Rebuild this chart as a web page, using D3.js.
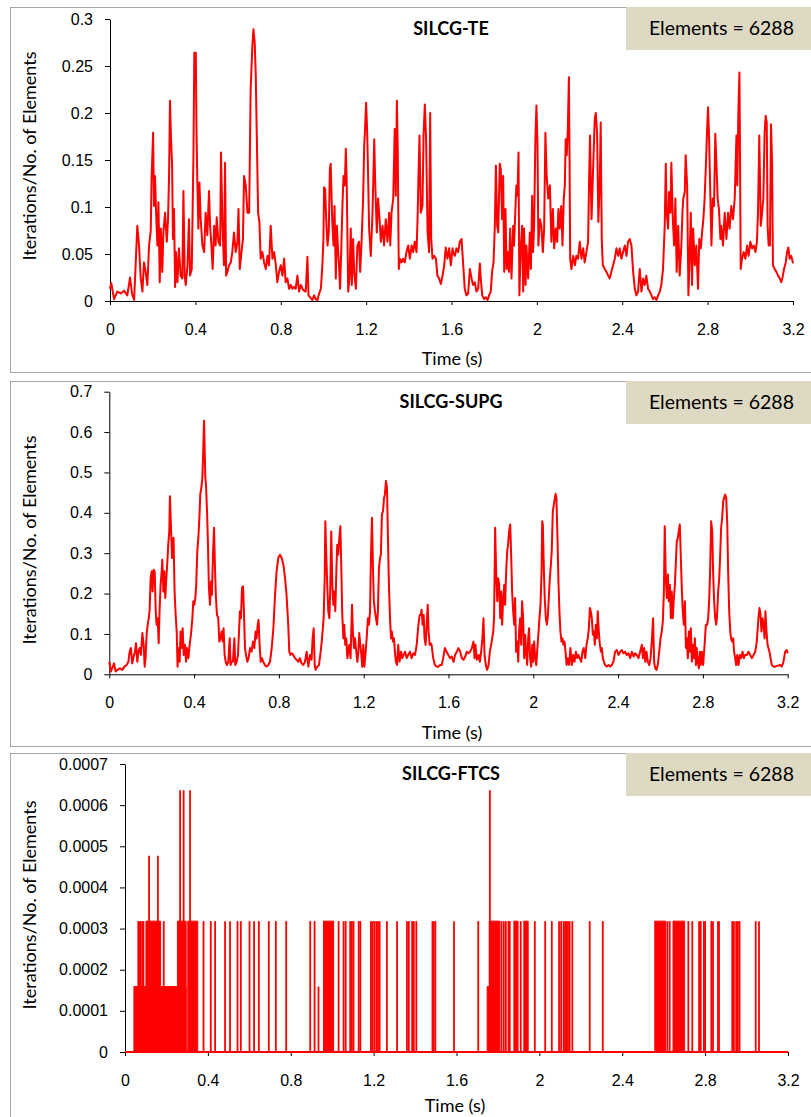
<!DOCTYPE html>
<html>
<head>
<meta charset="utf-8">
<script src="https://cdn.jsdelivr.net/npm/d3@7/dist/d3.min.js"></script>
<style>
  body { margin: 0; background: #fff; }
  svg { display: block; font-family: Lato, "Open Sans", sans-serif; }
</style>
</head>
<body>
<script>
// ---- data ----
var elementCount = 6288;
var timeTicks = [0, 0.4, 0.8, 1.2, 1.6, 2, 2.4, 2.8, 3.2];
var teTicks = [0, 0.05, 0.1, 0.15, 0.2, 0.25, 0.3];
var supgTicks = [0, 0.1, 0.2, 0.3, 0.4, 0.5, 0.6, 0.7];
var ftcsTicks = [0, 0.0001, 0.0002, 0.0003, 0.0004, 0.0005, 0.0006, 0.0007];

// SILCG-TE : [time (s), iterations / elements]
var teData = [
 [0,0.013],[0.006,0.019],[0.019,0.002],[0.034,0.010],[0.050,0.008],[0.066,0.011],[0.081,0.006],[0.094,0.025],[0.103,0.008],[0.113,0.001],
 [0.120,0.038],[0.128,0.080],[0.136,0.059],[0.144,0.024],[0.152,0.010],[0.159,0.041],[0.167,0.031],[0.175,0.017],[0.183,0.059],[0.191,0.075],
 [0.195,0.133],[0.202,0.179],[0.206,0.101],[0.211,0.133],[0.217,0.087],[0.222,0.059],[0.227,0.105],[0.233,0.020],[0.238,0.077],[0.245,0.031],
 [0.250,0.073],[0.258,0.094],[0.266,0.063],[0.272,0.087],[0.277,0.137],[0.281,0.213],[0.286,0.172],[0.291,0.144],[0.295,0.066],[0.300,0.098],
 [0.305,0.015],[0.309,0.052],[0.316,0.020],[0.323,0.056],[0.331,0.027],[0.339,0.024],[0.344,0.117],[0.350,0.027],[0.355,0.017],[0.363,0.038],
 [0.370,0.087],[0.375,0.027],[0.383,0.034],[0.391,0.155],[0.395,0.264],[0.402,0.264],[0.405,0.186],[0.409,0.128],[0.414,0.077],[0.419,0.126],
 [0.425,0.087],[0.433,0.059],[0.441,0.052],[0.448,0.094],[0.456,0.070],[0.464,0.117],[0.469,0.080],[0.475,0.059],[0.481,0.034],[0.488,0.080],
 [0.495,0.059],[0.500,0.089],[0.508,0.063],[0.516,0.059],[0.520,0.158],[0.527,0.080],[0.534,0.038],[0.539,0.147],[0.544,0.027],[0.550,0.031],
 [0.558,0.038],[0.566,0.041],[0.573,0.052],[0.581,0.073],[0.589,0.052],[0.597,0.063],[0.602,0.098],[0.608,0.034],[0.616,0.052],[0.623,0.066],
 [0.628,0.133],[0.636,0.123],[0.644,0.094],[0.652,0.094],[0.659,0.225],[0.667,0.271],[0.672,0.289],[0.678,0.275],[0.683,0.239],[0.688,0.172],
 [0.694,0.094],[0.700,0.084],[0.706,0.045],[0.714,0.052],[0.722,0.041],[0.730,0.034],[0.738,0.048],[0.745,0.038],[0.753,0.080],[0.761,0.045],
 [0.769,0.052],[0.777,0.038],[0.784,0.020],[0.792,0.031],[0.800,0.038],[0.808,0.027],[0.816,0.045],[0.823,0.020],[0.831,0.024],[0.839,0.013],
 [0.847,0.017],[0.855,0.013],[0.863,0.015],[0.870,0.013],[0.878,0.027],[0.886,0.010],[0.894,0.017],[0.902,0.013],[0.909,0.011],[0.917,0.010],
 [0.925,0.047],[0.930,0.006],[0.938,0.004],[0.948,0.001],[0.956,0.006],[0.964,0.002],[0.972,0.001],[0.980,0.008],[0.988,0.013],[0.995,0.038],
 [1.000,0.066],[1.003,0.121],[1.008,0.119],[1.013,0.087],[1.019,0.059],[1.025,0.073],[1.030,0.140],[1.034,0.146],[1.041,0.087],[1.047,0.059],
 [1.052,0.101],[1.058,0.024],[1.063,0.080],[1.069,0.052],[1.073,0.038],[1.078,0.013],[1.084,0.059],[1.089,0.101],[1.094,0.133],[1.100,0.123],
 [1.105,0.162],[1.109,0.126],[1.116,0.010],[1.122,0.024],[1.128,0.077],[1.133,0.017],[1.139,0.066],[1.144,0.031],[1.152,0.013],[1.159,0.059],
 [1.167,0.063],[1.172,0.031],[1.178,0.059],[1.186,0.109],[1.191,0.165],[1.195,0.183],[1.200,0.211],[1.205,0.179],[1.209,0.137],[1.214,0.077],
 [1.222,0.048],[1.230,0.094],[1.238,0.172],[1.242,0.130],[1.250,0.073],[1.256,0.109],[1.263,0.087],[1.269,0.063],[1.277,0.080],[1.284,0.059],
 [1.292,0.087],[1.300,0.063],[1.308,0.094],[1.313,0.059],[1.319,0.094],[1.327,0.109],[1.334,0.183],[1.339,0.112],[1.344,0.213],[1.348,0.165],
 [1.353,0.034],[1.358,0.045],[1.366,0.041],[1.373,0.045],[1.381,0.041],[1.389,0.052],[1.397,0.059],[1.405,0.045],[1.413,0.059],[1.420,0.052],
 [1.428,0.063],[1.436,0.052],[1.441,0.087],[1.445,0.130],[1.450,0.176],[1.456,0.094],[1.464,0.101],[1.469,0.176],[1.475,0.209],[1.481,0.172],
 [1.488,0.073],[1.495,0.052],[1.500,0.200],[1.505,0.066],[1.511,0.045],[1.519,0.048],[1.527,0.045],[1.534,0.027],[1.542,0.024],[1.550,0.018],
 [1.558,0.027],[1.566,0.038],[1.573,0.057],[1.581,0.045],[1.589,0.056],[1.597,0.038],[1.605,0.056],
 [1.608,0.052],[1.616,0.048],[1.623,0.056],[1.631,0.052],[1.639,0.063],[1.647,0.066],[1.655,0.038],[1.662,0.013],[1.670,0.006],[1.678,0.008],
 [1.686,0.034],[1.694,0.024],[1.701,0.017],[1.709,0.020],[1.717,0.010],[1.725,0.013],[1.733,0.040],[1.737,0.024],[1.744,0.006],[1.753,0.002],
 [1.761,0.004],[1.769,0.001],[1.776,0.006],[1.784,0.010],[1.790,0.031],[1.797,0.041],[1.803,0.080],[1.808,0.144],[1.814,0.080],[1.819,0.073],
 [1.826,0.146],[1.831,0.140],[1.837,0.087],[1.842,0.133],[1.847,0.031],[1.853,0.098],[1.858,0.034],[1.862,0.052],[1.869,0.031],[1.875,0.077],
 [1.881,0.024],[1.889,0.080],[1.893,0.059],[1.900,0.101],[1.904,0.123],[1.909,0.112],[1.914,0.158],[1.918,0.006],[1.925,0.059],[1.931,0.080],
 [1.936,0.010],[1.940,0.077],[1.947,0.017],[1.951,0.059],[1.959,0.024],[1.967,0.073],[1.972,0.034],[1.978,0.112],[1.982,0.052],[1.987,0.080],
 [1.993,0.172],[1.998,0.208],[2.003,0.165],[2.007,0.059],[2.014,0.087],[2.021,0.080],[2.028,0.052],[2.034,0.077],[2.040,0.179],[2.046,0.133],
 [2.053,0.109],[2.061,0.123],[2.068,0.063],[2.075,0.098],[2.081,0.056],[2.089,0.077],[2.095,0.063],[2.101,0.098],[2.107,0.077],[2.114,0.101],
 [2.120,0.059],[2.126,0.109],[2.131,0.123],[2.135,0.172],[2.140,0.155],[2.145,0.183],[2.150,0.238],[2.153,0.155],[2.156,0.045],[2.162,0.034],
 [2.170,0.048],[2.178,0.038],[2.185,0.048],[2.193,0.045],[2.201,0.063],[2.209,0.045],[2.217,0.056],[2.224,0.041],[2.232,0.052],[2.240,0.063],
 [2.245,0.133],[2.249,0.176],[2.256,0.087],[2.263,0.137],[2.271,0.193],[2.276,0.200],[2.282,0.179],[2.288,0.084],[2.295,0.130],[2.299,0.190],
 [2.304,0.066],[2.309,0.038],[2.318,0.034],[2.326,0.031],[2.334,0.027],[2.341,0.024],[2.349,0.031],[2.357,0.038],[2.365,0.045],[2.373,0.056],
 [2.381,0.048],[2.388,0.056],[2.396,0.045],[2.404,0.052],[2.412,0.059],[2.420,0.048],[2.427,0.063],[2.435,0.066],[2.443,0.059],[2.451,0.031],
 [2.459,0.013],[2.466,0.006],[2.474,0.010],[2.482,0.034],[2.490,0.010],[2.498,0.024],[2.505,0.017],[2.513,0.027],[2.521,0.013],[2.529,0.010],
 [2.537,0.006],[2.544,0.002],[2.552,0.004],[2.560,0.001],[2.568,0.006],[2.576,0.010],[2.583,0.017],[2.591,0.034],[2.599,0.080],[2.604,0.146],
 [2.608,0.094],[2.615,0.077],[2.619,0.116],[2.626,0.094],[2.630,0.147],[2.637,0.087],[2.643,0.059],[2.649,0.109],[2.655,0.031],[2.662,0.080],
 [2.669,0.027],[2.677,0.059],[2.682,0.094],[2.686,0.109],[2.693,0.116],[2.697,0.155],[2.704,0.123],[2.710,0.006],[2.716,0.048],[2.721,0.094],
 [2.727,0.017],[2.732,0.077],[2.740,0.038],[2.747,0.059],[2.755,0.013],[2.761,0.066],[2.768,0.056],[2.774,0.073],[2.780,0.087],[2.786,0.109],
 [2.793,0.151],[2.797,0.179],[2.802,0.206],[2.807,0.172],[2.813,0.109],[2.818,0.059],[2.824,0.109],[2.830,0.101],[2.836,0.178],[2.841,0.147],
 [2.847,0.109],[2.853,0.098],[2.860,0.066],[2.864,0.080],[2.872,0.059],[2.880,0.094],[2.888,0.066],[2.896,0.094],[2.903,0.077],[2.911,0.101],
 [2.919,0.087],[2.927,0.109],[2.935,0.176],[2.939,0.123],[2.944,0.200],[2.949,0.243],[2.952,0.144],[2.955,0.034],[2.961,0.045],[2.969,0.052],
 [2.977,0.045],[2.985,0.059],[2.992,0.048],[3.000,0.063],[3.008,0.056],[3.016,0.059],[3.024,0.052],[3.031,0.063],[3.036,0.094],[3.042,0.176],
 [3.049,0.080],[3.055,0.094],[3.061,0.109],[3.067,0.179],[3.072,0.197],[3.077,0.190],[3.081,0.080],[3.086,0.059],[3.092,0.059],[3.097,0.188],
 [3.102,0.147],[3.106,0.038],[3.114,0.034],[3.122,0.031],[3.130,0.027],[3.138,0.024],[3.145,0.020],[3.150,0.024],[3.158,0.034],[3.166,0.041],
 [3.172,0.052],[3.178,0.057],[3.184,0.045],[3.192,0.048],[3.200,0.040]
];

// SILCG-SUPG : [time (s), iterations / elements]
var supgData = [
 [0,0.031],[0.008,0.007],[0.014,0.015],[0.022,0.027],[0.030,0.007],[0.039,0.011],[0.050,0.015],[0.061,0.011],[0.071,0.019],[0.082,0.023],
 [0.090,0.031],[0.096,0.056],[0.102,0.065],[0.108,0.027],[0.115,0.044],[0.121,0.056],[0.126,0.077],[0.132,0.031],[0.137,0.056],[0.143,0.065],
 [0.149,0.048],[0.156,0.102],[0.162,0.073],[0.167,0.019],[0.171,0.040],[0.176,0.098],[0.181,0.123],[0.186,0.139],[0.190,0.156],[0.195,0.238],
 [0.200,0.255],[0.204,0.205],[0.209,0.259],[0.214,0.255],[0.219,0.156],[0.223,0.123],[0.228,0.139],[0.233,0.077],[0.237,0.156],[0.242,0.222],
 [0.247,0.255],[0.250,0.284],[0.255,0.205],[0.259,0.255],[0.264,0.189],[0.269,0.238],[0.274,0.280],[0.278,0.321],[0.283,0.354],[0.286,0.441],
 [0.291,0.363],[0.296,0.288],[0.300,0.330],[0.303,0.338],[0.308,0.205],[0.313,0.147],[0.318,0.106],[0.322,0.019],[0.327,0.065],[0.332,0.031],
 [0.336,0.106],[0.341,0.065],[0.346,0.114],[0.351,0.048],[0.357,0.073],[0.362,0.031],[0.366,0.065],[0.373,0.040],[0.379,0.073],[0.385,0.098],
 [0.392,0.139],[0.396,0.181],[0.401,0.172],[0.406,0.189],[0.410,0.222],[0.415,0.305],[0.420,0.338],[0.425,0.388],[0.429,0.445],[0.434,0.462],
 [0.439,0.487],[0.443,0.553],[0.447,0.628],[0.450,0.553],[0.453,0.487],[0.456,0.470],[0.461,0.404],[0.465,0.330],[0.470,0.214],[0.475,0.172],
 [0.480,0.230],[0.484,0.197],[0.489,0.296],[0.494,0.363],[0.498,0.272],[0.503,0.189],[0.508,0.147],[0.514,0.139],[0.519,0.081],[0.524,0.089],
 [0.530,0.106],[0.535,0.081],[0.539,0.114],[0.544,0.048],[0.549,0.031],[0.555,0.023],[0.561,0.031],[0.568,0.089],[0.572,0.023],[0.577,0.031],
 [0.583,0.031],[0.590,0.089],[0.594,0.023],[0.601,0.031],[0.607,0.048],[0.612,0.106],[0.616,0.156],[0.621,0.139],[0.626,0.214],[0.631,0.218],
 [0.635,0.156],[0.640,0.065],[0.645,0.048],[0.651,0.031],[0.657,0.040],[0.664,0.065],[0.671,0.056],[0.678,0.081],[0.684,0.065],[0.690,0.106],
 [0.695,0.089],[0.700,0.123],[0.704,0.135],[0.709,0.073],[0.714,0.031],[0.720,0.040],[0.726,0.031],[0.734,0.023],[0.742,0.019],[0.750,0.023],
 [0.758,0.031],[0.766,0.065],[0.774,0.114],[0.781,0.189],[0.789,0.255],[0.797,0.288],[0.805,0.296],[0.813,0.288],[0.821,0.272],[0.829,0.238],
 [0.836,0.197],[0.844,0.123],[0.849,0.056],[0.854,0.048],[0.860,0.052],[0.868,0.048],[0.876,0.040],[0.884,0.036],[0.892,0.031],[0.899,0.040],
 [0.907,0.027],[0.915,0.023],[0.923,0.031],[0.931,0.056],[0.939,0.019],[0.947,0.048],[0.954,0.036],[0.959,0.089],[0.964,0.114],[0.969,0.023],
 [0.973,0.011],[0.981,0.019],[0.989,0.023],[0.997,0.056],[1.002,0.081],[1.006,0.106],[1.011,0.139],[1.016,0.238],[1.019,0.379],[1.024,0.288],
 [1.028,0.222],[1.033,0.156],[1.038,0.139],[1.042,0.205],[1.047,0.354],[1.052,0.222],[1.057,0.172],[1.061,0.205],[1.066,0.156],[1.071,0.255],
 [1.075,0.321],[1.080,0.296],[1.085,0.338],[1.090,0.367],[1.094,0.272],[1.099,0.147],[1.104,0.089],[1.108,0.123],[1.113,0.073],[1.118,0.089],
 [1.123,0.040],[1.127,0.056],[1.132,0.073],[1.138,0.040],[1.145,0.172],[1.149,0.106],[1.154,0.065],[1.159,0.089],[1.165,0.056],[1.170,0.031],
 [1.175,0.056],[1.179,0.102],[1.184,0.073],[1.189,0.048],[1.193,0.019],[1.198,0.073],[1.203,0.019],[1.208,0.048],[1.214,0.089],[1.220,0.139],
 [1.225,0.123],[1.230,0.156],[1.234,0.288],[1.239,0.388],[1.244,0.255],[1.248,0.181],[1.253,0.156],[1.258,0.139],[1.263,0.123],[1.267,0.156],
 [1.272,0.263],[1.277,0.288],[1.281,0.296],[1.286,0.396],[1.291,0.404],[1.296,0.437],[1.300,0.445],[1.305,0.479],[1.310,0.462],[1.314,0.346],
 [1.319,0.222],[1.324,0.139],[1.329,0.089],[1.333,0.106],[1.338,0.081],[1.343,0.089],[1.347,0.056],[1.352,0.031],[1.357,0.023],[1.363,0.073],
 [1.369,0.031],[1.376,0.056],[1.382,0.040],[1.388,0.048],[1.395,0.056],[1.403,0.040],[1.410,0.048],[1.418,0.056],[1.426,0.040],[1.434,0.052],
 [1.442,0.048],[1.450,0.073],[1.458,0.123],[1.464,0.147],[1.469,0.147],[1.473,0.160],[1.478,0.123],[1.483,0.147],[1.487,0.089],[1.492,0.073],
 [1.497,0.123],[1.502,0.172],[1.506,0.106],[1.511,0.073],[1.516,0.077],[1.520,0.073],[1.528,0.040],[1.536,0.023],[1.544,0.019],[1.552,0.019],
 [1.560,0.023],[1.568,0.023],[1.575,0.040],[1.583,0.065],[1.591,0.056],[1.599,0.048],[1.607,0.040],[1.615,0.044],
 [1.624,0.031],[1.631,0.048],[1.639,0.056],[1.647,0.065],[1.655,0.056],[1.663,0.040],[1.671,0.036],[1.679,0.044],[1.686,0.056],[1.694,0.052],
 [1.702,0.056],[1.710,0.065],[1.718,0.081],[1.723,0.040],[1.727,0.073],[1.734,0.036],[1.742,0.048],[1.748,0.031],[1.754,0.056],[1.760,0.089],
 [1.765,0.139],[1.770,0.048],[1.776,0.023],[1.782,0.011],[1.789,0.023],[1.795,0.056],[1.801,0.073],[1.806,0.089],[1.811,0.106],[1.815,0.139],
 [1.820,0.363],[1.825,0.247],[1.830,0.181],[1.834,0.238],[1.839,0.222],[1.844,0.139],[1.848,0.205],[1.853,0.123],[1.858,0.189],[1.863,0.222],
 [1.867,0.172],[1.872,0.255],[1.877,0.305],[1.881,0.321],[1.886,0.354],[1.891,0.371],[1.896,0.288],[1.900,0.205],[1.905,0.156],[1.910,0.123],
 [1.914,0.189],[1.919,0.056],[1.924,0.081],[1.929,0.031],[1.933,0.106],[1.938,0.139],[1.943,0.073],[1.947,0.181],[1.952,0.139],[1.957,0.040],
 [1.962,0.098],[1.966,0.056],[1.971,0.023],[1.976,0.089],[1.980,0.114],[1.985,0.040],[1.990,0.019],[1.995,0.073],[1.999,0.031],[2.004,0.081],
 [2.009,0.040],[2.014,0.023],[2.018,0.056],[2.025,0.106],[2.029,0.139],[2.034,0.172],[2.039,0.255],[2.042,0.379],[2.045,0.371],[2.050,0.255],
 [2.054,0.189],[2.059,0.139],[2.064,0.123],[2.069,0.147],[2.073,0.189],[2.078,0.238],[2.083,0.272],[2.087,0.305],[2.092,0.404],[2.097,0.421],
 [2.102,0.437],[2.105,0.447],[2.109,0.437],[2.114,0.338],[2.119,0.222],[2.124,0.147],[2.128,0.106],[2.133,0.081],[2.138,0.089],[2.142,0.073],
 [2.147,0.081],[2.152,0.056],[2.157,0.023],[2.163,0.040],[2.169,0.023],[2.175,0.065],[2.182,0.023],[2.188,0.048],[2.194,0.031],[2.201,0.056],
 [2.207,0.040],[2.213,0.048],[2.219,0.040],[2.226,0.031],[2.232,0.056],[2.238,0.065],[2.245,0.040],[2.251,0.073],[2.257,0.089],[2.262,0.114],
 [2.267,0.164],[2.271,0.156],[2.276,0.139],[2.281,0.098],[2.286,0.106],[2.290,0.073],[2.295,0.123],[2.300,0.089],[2.304,0.156],[2.309,0.106],
 [2.314,0.073],[2.319,0.056],[2.323,0.065],[2.328,0.040],[2.333,0.031],[2.339,0.023],[2.347,0.019],[2.355,0.023],[2.363,0.019],[2.370,0.023],
 [2.378,0.031],[2.386,0.056],[2.394,0.060],[2.402,0.048],[2.410,0.056],[2.418,0.060],[2.425,0.052],[2.433,0.056],[2.441,0.048],[2.449,0.052],
 [2.457,0.040],[2.465,0.056],[2.473,0.044],[2.480,0.052],[2.488,0.048],[2.496,0.040],[2.504,0.056],[2.512,0.073],[2.517,0.040],[2.523,0.065],
 [2.528,0.031],[2.534,0.056],[2.540,0.031],[2.547,0.023],[2.553,0.040],[2.559,0.081],[2.565,0.139],[2.570,0.031],[2.575,0.015],[2.581,0.011],
 [2.587,0.023],[2.594,0.056],[2.600,0.089],[2.606,0.106],[2.611,0.131],[2.616,0.205],[2.620,0.367],[2.625,0.238],[2.630,0.189],[2.635,0.247],
 [2.639,0.181],[2.644,0.222],[2.649,0.139],[2.653,0.205],[2.658,0.139],[2.663,0.189],[2.668,0.222],[2.672,0.272],[2.677,0.330],[2.682,0.338],
 [2.686,0.354],[2.691,0.371],[2.696,0.288],[2.701,0.205],[2.705,0.156],[2.710,0.123],[2.715,0.181],[2.720,0.065],[2.724,0.089],[2.729,0.040],
 [2.734,0.106],[2.738,0.056],[2.743,0.114],[2.748,0.031],[2.753,0.073],[2.757,0.040],[2.762,0.089],[2.767,0.023],[2.771,0.065],[2.776,0.031],
 [2.781,0.015],[2.786,0.056],[2.790,0.023],[2.795,0.056],[2.801,0.023],[2.808,0.073],[2.814,0.123],[2.820,0.123],[2.825,0.139],[2.830,0.189],
 [2.834,0.255],[2.839,0.379],[2.844,0.354],[2.848,0.255],[2.853,0.181],[2.858,0.139],[2.863,0.123],[2.867,0.147],[2.872,0.205],[2.877,0.238],
 [2.881,0.288],[2.886,0.363],[2.891,0.388],[2.896,0.429],[2.900,0.437],[2.905,0.445],[2.910,0.437],[2.915,0.371],[2.919,0.255],[2.924,0.156],
 [2.929,0.106],[2.933,0.089],[2.938,0.081],[2.943,0.089],[2.947,0.056],[2.952,0.040],[2.957,0.023],[2.962,0.048],[2.968,0.023],[2.974,0.048],
 [2.980,0.040],[2.987,0.056],[2.993,0.040],[2.999,0.048],[3.007,0.048],[3.015,0.056],[3.023,0.048],[3.031,0.040],[3.039,0.048],[3.047,0.056],
 [3.054,0.081],[3.062,0.139],[3.067,0.164],[3.072,0.147],[3.076,0.106],[3.081,0.139],[3.086,0.123],[3.091,0.089],[3.095,0.156],[3.100,0.106],
 [3.105,0.073],[3.109,0.065],[3.114,0.056],[3.119,0.040],[3.125,0.023],[3.133,0.019],[3.141,0.019],[3.149,0.021],[3.157,0.022],[3.164,0.023],
 [3.172,0.019],[3.180,0.031],[3.188,0.056],[3.196,0.060],[3.200,0.052]
];

// SILCG-FTCS : iterations per step (divide by elementCount); the series sits at 0 elsewhere
// single steps with 2 iterations
var ftcsTwoIter = [
 0.064,0.069,0.076,0.084,0.089,0.187,0.379,0.414,0.435,0.483,0.507,0.543,0.559,0.601,0.623,0.646,0.694,0.728,0.778,
 0.894,0.915,1.031,1.055,1.065,1.087,1.095,1.103,1.128,1.136,1.187,1.194,1.203,1.213,1.221,1.229,1.264,1.313,1.361,1.370,
 1.386,1.394,1.406,1.484,1.490,1.498,1.588,1.705,1.817,1.828,1.838,1.851,1.857,1.910,1.978,2.028,2.060,2.095,2.105,2.117,
 2.124,2.130,2.138,2.146,2.159,2.243,2.306,2.618,2.629,2.719,2.738,2.771,2.779,2.794,2.800,2.830,2.838,2.862,2.867,
 2.931,2.939,2.950,2.958,2.966,3.044,3.060
];
// single steps with other counts: [time, iterations]
var ftcsOtherIter = [[0.116,3],[0.159,3],[0.266,4],[0.283,4],[0.314,4],[0.934,1],[1.761,4]];
// stretches where the count flips every step (draws solid): [start, end, iterations]
var ftcsBursts = [
 [0.043,0.295,1],[0.101,0.172,2],[0.253,0.295,2],[0.303,0.351,2],[0.958,1.007,2],[1.748,1.758,1],
 [1.758,1.809,2],[1.877,1.897,2],[1.925,1.946,2],[2.557,2.610,2],[2.645,2.701,2]
];

// ---- layout ----
var panels = [
  {title: 'SILCG-TE', box: [7, 365], left: 110, right: 793, top: 19, bottom: 301, yMax: 0.3, ticks: teTicks,
   titleY: 35, timeX: 452, timeY: 365, yTitleY: 156},
  {title: 'SILCG-SUPG', box: [381, 365], left: 109.3, right: 787.7, top: 391.7, bottom: 674.3, yMax: 0.7, ticks: supgTicks,
   titleY: 408, timeX: 452, timeY: 739, yTitleY: 540},
  {title: 'SILCG-FTCS', box: [753, 400], left: 125, right: 788, top: 764, bottom: 1052, yMax: 0.0007, ticks: ftcsTicks,
   titleY: 780, timeX: 455, timeY: 1112, yTitleY: 905}
];

var svg = d3.select('body').append('svg')
    .attr('width', 811)
    .attr('height', 1117);

var red = '#ff0000';

function drawPanel(p) {
    var g = svg.append('g');

    // outer frame
    g.append('rect')
        .attr('x', 10.5).attr('y', p.box[0] + 0.5)
        .attr('width', 830).attr('height', p.box[1])
        .attr('fill', 'none').attr('stroke', '#a6a6a6');

    var x = d3.scaleLinear().domain([0, 3.2]).range([p.left, p.right]);
    var y = d3.scaleLinear().domain([0, p.yMax]).range([p.bottom, p.top]);

    // axes
    var yAxis = d3.axisLeft(y).tickValues(p.ticks).tickSize(5).tickSizeOuter(0).tickPadding(12)
        .tickFormat(d3.format('~g'));
    var xAxis = d3.axisBottom(x).tickValues(timeTicks).tickSize(4).tickSizeOuter(0)
        .tickFormat(d3.format('~g'));

    var gy = g.append('g').attr('transform', 'translate(' + p.left + ',0)').call(yAxis);
    var gx = g.append('g').attr('transform', 'translate(0,' + p.bottom + ')').call(xAxis);
    [gx, gy].forEach(function(a) {
        a.select('.domain').attr('stroke', '#000');
        a.selectAll('.tick line').attr('stroke', '#000');
        a.selectAll('text').attr('fill', '#000').style('font-size', '16px').attr('font-family', null);
    });
    gx.selectAll('text').attr('y', 34).attr('dy', 0);

    // titles
    g.append('text')
        .attr('x', 451).attr('y', p.titleY)
        .attr('text-anchor', 'middle')
        .style('font-size', '18px').style('font-weight', 'bold')
        .text(p.title);

    g.append('text')
        .attr('x', p.timeX).attr('y', p.timeY)
        .attr('text-anchor', 'middle')
        .style('font-size', '18px')
        .text('Time (s)');

    g.append('text')
        .attr('transform', 'translate(30,' + p.yTitleY + ') rotate(-90)')
        .attr('text-anchor', 'middle')
        .attr('dy', '0.35em')
        .style('font-size', '18px')
        .text('Iterations/No. of Elements');

    // "Elements = 6288" label box
    g.append('rect')
        .attr('x', 626).attr('y', p.box[0])
        .attr('width', 200).attr('height', 43)
        .attr('fill', '#ddd9c3');
    g.append('text')
        .attr('x', 794).attr('y', p.box[0] + 28)
        .attr('text-anchor', 'end')
        .style('font-size', '19.5px')
        .text('Elements = ' + elementCount);

    return {g: g, x: x, y: y};
}

// TE and SUPG as plain lines
[[panels[0], teData], [panels[1], supgData]].forEach(function(pair) {
    var s = drawPanel(pair[0]);
    var line = d3.line()
        .x(function(d) { return s.x(d[0]); })
        .y(function(d) { return s.y(d[1]); });
    s.g.append('path')
        .datum(pair[1])
        .attr('d', line)
        .attr('fill', 'none')
        .attr('stroke', red)
        .attr('stroke-width', 2)
        .attr('stroke-linejoin', 'round');
});

// FTCS: zero line, solid bursts, then single-step spikes
(function() {
    var s = drawPanel(panels[2]);
    var per = function(k) { return k / elementCount; };

    s.g.append('line')
        .attr('x1', s.x(0)).attr('x2', s.x(3.2))
        .attr('y1', s.y(0)).attr('y2', s.y(0))
        .attr('stroke', red).attr('stroke-width', 2);

    var area = d3.area()
        .x(function(d) { return s.x(d[0]); })
        .y0(s.y(0))
        .y1(function(d) { return s.y(d[1]); });
    s.g.selectAll('.burst')
        .data(ftcsBursts)
      .enter().append('path')
        .attr('class', 'burst')
        .attr('d', function(d) { return area([[d[0], per(d[2])], [d[1], per(d[2])]]); })
        .attr('fill', red)
        .attr('stroke', red)
        .attr('stroke-width', 1);

    var spikes = ftcsTwoIter.map(function(t) { return [t, 2]; }).concat(ftcsOtherIter);
    s.g.selectAll('.spike')
        .data(spikes)
      .enter().append('line')
        .attr('class', 'spike')
        .attr('x1', function(d) { return s.x(d[0]); })
        .attr('x2', function(d) { return s.x(d[0]); })
        .attr('y1', s.y(0))
        .attr('y2', function(d) { return s.y(per(d[1])); })
        .attr('stroke', red)
        .attr('stroke-width', 1.8);
})();
</script>
</body>
</html>
